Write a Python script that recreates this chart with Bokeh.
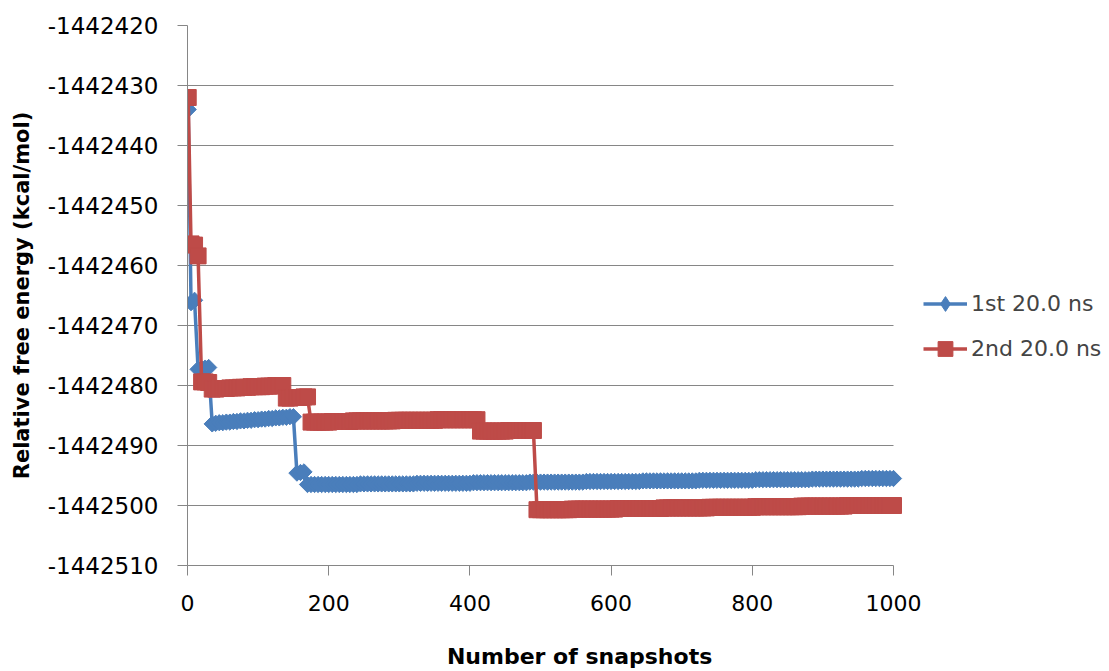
import math
from bokeh.plotting import figure
from bokeh.models import Range1d, FixedTicker, NumeralTickFormatter, Legend, LegendItem
from bokeh.embed import file_html
from bokeh.resources import INLINE

# snapshot numbers at which the running estimates were read (every 5th snapshot)
snapshots = [1] + list(range(5, 1001, 5))

series_names = ["1st 20.0 ns", "2nd 20.0 ns"]

first_20ns = [
    -1442434.0, -1442466.2, -1442465.8, -1442477.3, -1442477.2, -1442477.1, -1442477.0, -1442486.4,
    -1442486.3, -1442486.2, -1442486.2, -1442486.1, -1442486.1, -1442486.0, -1442486.0, -1442485.9,
    -1442485.9, -1442485.8, -1442485.8, -1442485.7, -1442485.7, -1442485.6, -1442485.6, -1442485.5,
    -1442485.5, -1442485.4, -1442485.4, -1442485.3, -1442485.3, -1442485.2, -1442485.2,
    -1442494.6, -1442494.5, -1442494.4,
    -1442496.5, -1442496.5, -1442496.5, -1442496.5, -1442496.5, -1442496.5, -1442496.5, -1442496.5,
    -1442496.5, -1442496.5, -1442496.5, -1442496.5, -1442496.5, -1442496.5, -1442496.5,
    -1442496.4, -1442496.4, -1442496.4, -1442496.4, -1442496.4, -1442496.4, -1442496.4, -1442496.4,
    -1442496.4, -1442496.4, -1442496.4, -1442496.4, -1442496.4, -1442496.4, -1442496.4, -1442496.4,
    -1442496.3, -1442496.3, -1442496.3, -1442496.3, -1442496.3, -1442496.3, -1442496.3, -1442496.3,
    -1442496.3, -1442496.3, -1442496.3, -1442496.3, -1442496.3, -1442496.3, -1442496.3, -1442496.3,
    -1442496.2, -1442496.2, -1442496.2, -1442496.2, -1442496.2, -1442496.2, -1442496.2, -1442496.2,
    -1442496.2, -1442496.2, -1442496.2, -1442496.2, -1442496.2, -1442496.2, -1442496.2, -1442496.2,
    -1442496.1, -1442496.1, -1442496.1, -1442496.1, -1442496.1, -1442496.1, -1442496.1, -1442496.1,
    -1442496.1, -1442496.1, -1442496.1, -1442496.1, -1442496.1, -1442496.1, -1442496.1, -1442496.1,
    -1442496.0, -1442496.0, -1442496.0, -1442496.0, -1442496.0, -1442496.0, -1442496.0, -1442496.0,
    -1442496.0, -1442496.0, -1442496.0, -1442496.0, -1442496.0, -1442496.0, -1442496.0, -1442496.0,
    -1442495.9, -1442495.9, -1442495.9, -1442495.9, -1442495.9, -1442495.9, -1442495.9, -1442495.9,
    -1442495.9, -1442495.9, -1442495.9, -1442495.9, -1442495.9, -1442495.9, -1442495.9, -1442495.9,
    -1442495.8, -1442495.8, -1442495.8, -1442495.8, -1442495.8, -1442495.8, -1442495.8, -1442495.8,
    -1442495.8, -1442495.8, -1442495.8, -1442495.8, -1442495.8, -1442495.8, -1442495.8, -1442495.8,
    -1442495.7, -1442495.7, -1442495.7, -1442495.7, -1442495.7, -1442495.7, -1442495.7, -1442495.7,
    -1442495.7, -1442495.7, -1442495.7, -1442495.7, -1442495.7, -1442495.7, -1442495.7, -1442495.7,
    -1442495.6, -1442495.6, -1442495.6, -1442495.6, -1442495.6, -1442495.6, -1442495.6, -1442495.6,
    -1442495.6, -1442495.6, -1442495.6, -1442495.6, -1442495.6, -1442495.6,
    -1442495.5, -1442495.5, -1442495.5, -1442495.5, -1442495.5, -1442495.5, -1442495.5, -1442495.5,
    -1442495.5, -1442495.5,
]

second_20ns = [
    -1442432.0, -1442456.4, -1442456.6, -1442458.4, -1442479.4, -1442479.4, -1442479.5,
    -1442480.6, -1442480.6, -1442480.5, -1442480.5, -1442480.5, -1442480.4, -1442480.4, -1442480.4,
    -1442480.3, -1442480.3, -1442480.3, -1442480.2, -1442480.2, -1442480.2, -1442480.2, -1442480.1,
    -1442480.1, -1442480.1, -1442480.0, -1442480.0, -1442480.0,
    -1442482.1, -1442482.1, -1442482.0, -1442482.0, -1442482.0, -1442481.9, -1442481.9,
    -1442486.1, -1442486.1, -1442486.1, -1442486.1, -1442486.1, -1442486.1,
    -1442486.0, -1442486.0, -1442486.0, -1442486.0, -1442486.0, -1442486.0,
    -1442485.9, -1442485.9, -1442485.9, -1442485.9, -1442485.9, -1442485.9,
    -1442485.9, -1442485.9, -1442485.9, -1442485.9, -1442485.9, -1442485.9,
    -1442485.8, -1442485.8, -1442485.8, -1442485.8, -1442485.8, -1442485.8,
    -1442485.8, -1442485.8, -1442485.8, -1442485.8, -1442485.8, -1442485.8,
    -1442485.7, -1442485.7, -1442485.7, -1442485.7, -1442485.7, -1442485.7,
    -1442485.7, -1442485.7, -1442485.7, -1442485.7, -1442485.7, -1442485.7,
    -1442487.6, -1442487.6, -1442487.6, -1442487.6, -1442487.6, -1442487.6, -1442487.6, -1442487.6,
    -1442487.5, -1442487.5, -1442487.5, -1442487.5, -1442487.5, -1442487.5, -1442487.5, -1442487.5,
    -1442500.7, -1442500.7, -1442500.7, -1442500.7, -1442500.7, -1442500.7, -1442500.7, -1442500.7,
    -1442500.7, -1442500.7,
    -1442500.6, -1442500.6, -1442500.6, -1442500.6, -1442500.6, -1442500.6, -1442500.6, -1442500.6,
    -1442500.6, -1442500.6, -1442500.6, -1442500.6, -1442500.6,
    -1442500.5, -1442500.5, -1442500.5, -1442500.5, -1442500.5, -1442500.5, -1442500.5, -1442500.5,
    -1442500.5, -1442500.5, -1442500.5, -1442500.5, -1442500.5,
    -1442500.4, -1442500.4, -1442500.4, -1442500.4, -1442500.4, -1442500.4, -1442500.4, -1442500.4,
    -1442500.4, -1442500.4, -1442500.4, -1442500.4, -1442500.4,
    -1442500.3, -1442500.3, -1442500.3, -1442500.3, -1442500.3, -1442500.3, -1442500.3, -1442500.3,
    -1442500.3, -1442500.3, -1442500.3, -1442500.3, -1442500.3,
    -1442500.2, -1442500.2, -1442500.2, -1442500.2, -1442500.2, -1442500.2, -1442500.2, -1442500.2,
    -1442500.2, -1442500.2, -1442500.2, -1442500.2, -1442500.2,
    -1442500.1, -1442500.1, -1442500.1, -1442500.1, -1442500.1, -1442500.1, -1442500.1, -1442500.1,
    -1442500.1, -1442500.1, -1442500.1, -1442500.1, -1442500.1,
    -1442500.0, -1442500.0, -1442500.0, -1442500.0, -1442500.0, -1442500.0, -1442500.0, -1442500.0,
    -1442500.0, -1442500.0, -1442500.0, -1442500.0, -1442500.0, -1442500.0,
]

x_ticks = [0, 200, 400, 600, 800, 1000]
y_ticks = [-1442510, -1442500, -1442490, -1442480, -1442470, -1442460,
           -1442450, -1442440, -1442430, -1442420]
x_title = "Number of snapshots"
y_title = "Relative free energy (kcal/mol)"

BLUE = "#4A7EBB"
RED = "#BE4B48"
GRID = "#868686"
FONT = "DejaVu Sans"

# layout: plot area spans 706 px for 0..1000 snapshots; the frame is extended to the
# right edge of the canvas so the legend can sit to the right of the data area.
W, H = 1109, 671
LEFT, TOP, BOTTOM = 187, 25, 106
frame_w = W - LEFT
x_end = 1000 * frame_w / 706.0

p = figure(width=W, height=H, output_backend="svg", toolbar_location=None,
           x_range=Range1d(0, x_end), y_range=Range1d(-1442510, -1442420),
           min_border_left=LEFT, min_border_right=0, min_border_top=TOP,
           min_border_bottom=BOTTOM)
p.outline_line_color = None
p.background_fill_color = "white"
p.border_fill_color = "white"

p.xaxis.ticker = FixedTicker(ticks=x_ticks)
p.yaxis.ticker = FixedTicker(ticks=y_ticks)
p.yaxis.formatter = NumeralTickFormatter(format="0")
p.xaxis.bounds = (0, 1000)
for ax in (p.xaxis[0], p.yaxis[0]):
    ax.axis_line_color = GRID
    ax.major_tick_line_color = GRID
    ax.major_tick_out = 10
    ax.major_tick_in = 0
    ax.minor_tick_line_color = None
    ax.major_label_text_font = FONT
    ax.major_label_text_color = "black"
p.yaxis.major_label_text_font_size = "23px"
p.xaxis.major_label_text_font_size = "22px"
p.yaxis.major_label_standoff = 19
p.xaxis.major_label_standoff = 19
p.xgrid.grid_line_color = None

g = p.ygrid[0]
if "cross_bounds" in g.properties():
    g.grid_line_color = GRID
    g.cross_bounds = (0, 1000)
else:
    g.grid_line_color = None
    p.segment(x0=[0] * len(y_ticks), y0=y_ticks, x1=[1000] * len(y_ticks), y1=y_ticks,
              line_color=GRID, line_width=1)

p.yaxis.axis_label = y_title
p.yaxis.axis_label_text_font = FONT
p.yaxis.axis_label_text_font_size = "21px"
p.yaxis.axis_label_text_font_style = "bold"
p.yaxis.axis_label_text_color = "black"
p.yaxis.axis_label_standoff = 11

# the Excel title sits right of the frame centre; trailing no-break spaces shift it left
p.xaxis.axis_label = x_title + "\u00a0" * 18
p.xaxis.axis_label_text_font = FONT
p.xaxis.axis_label_text_font_size = "22px"
p.xaxis.axis_label_text_font_style = "bold"
p.xaxis.axis_label_text_color = "black"
p.xaxis.axis_label_standoff = 30

bl = p.line(snapshots, first_20ns, line_color=BLUE, line_width=3.5)
bs = p.scatter(snapshots, first_20ns, marker="square", angle=math.pi / 4, size=11.5,
               fill_color=BLUE, line_color=BLUE)
rl = p.line(snapshots, second_20ns, line_color=RED, line_width=3.5)
rs = p.scatter(snapshots, second_20ns, marker="square", size=16,
               fill_color=RED, line_color=RED)
# legend-only marker swatches (a single NaN point, so nothing is drawn in the plot)
nan = float("nan")
bkey = p.scatter(x=[nan], y=[nan], marker="diamond", size=15, fill_color=BLUE, line_color=BLUE)
rkey = p.scatter(x=[nan], y=[nan], marker="square", size=14, fill_color=RED, line_color=RED)

legend = Legend(items=[LegendItem(label=series_names[0], renderers=[bl, bkey]),
                       LegendItem(label=series_names[1], renderers=[rl, rkey])],
                location=(736, 198), border_line_color=None, background_fill_alpha=0,
                label_text_font=FONT, label_text_font_size="22px",
                glyph_width=44, glyph_height=37, label_standoff=4, spacing=8,
                padding=0, margin=0)
p.add_layout(legend)

open("out.html", "w").write(file_html(p, INLINE))
